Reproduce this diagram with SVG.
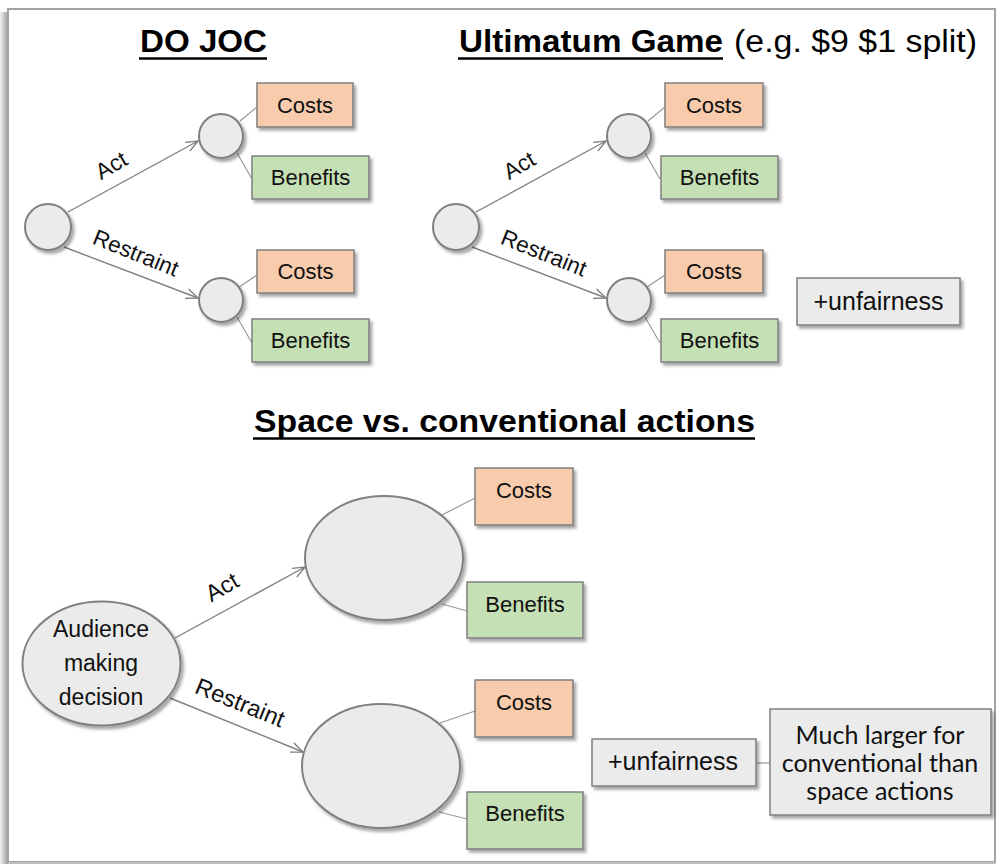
<svg xmlns="http://www.w3.org/2000/svg" width="999" height="865" viewBox="0 0 999 865">
  <defs>
    <style>
      .title { font-family: "Liberation Sans", Arial, sans-serif; font-size: 31px; font-weight: bold; fill: #000; }
      .sub { font-family: "Liberation Sans", Arial, sans-serif; font-size: 31px; fill: #000; }
      .ul { stroke: #000; stroke-width: 2.5; }
      .lbl { font-family: "Liberation Sans", Arial, sans-serif; font-size: 22px; fill: #111; text-anchor: middle; }
      .lbl-big { font-family: "Liberation Sans", Arial, sans-serif; font-size: 23px; fill: #111; text-anchor: middle; }
      .edge-lbl { font-family: "Liberation Sans", Arial, sans-serif; font-size: 22.5px; fill: #111; text-anchor: middle; }
      .edge-lbl-big { font-family: "Liberation Sans", Arial, sans-serif; font-size: 23.5px; fill: #111; text-anchor: middle; }
      .note { font-family: Lato, "Open Sans", sans-serif; font-size: 25px; fill: #111; text-anchor: middle; }
      .costs { fill: #F8CBAD; stroke: #7F7F7F; stroke-width: 1.5; }
      .benefits { fill: #C5E0B4; stroke: #7F7F7F; stroke-width: 1.5; }
      .grey { fill: #EBEBEB; stroke: #7F7F7F; stroke-width: 1.5; }
      .state { fill: #EBEBEB; stroke: #808080; stroke-width: 2; }
      .arrow { stroke: #808080; stroke-width: 1.4; fill: none; marker-end: url(#chev); }
      .link { stroke: #999; stroke-width: 1.2; fill: none; }
    </style>
    <marker id="chev" viewBox="0 0 14 12" refX="13" refY="6" markerWidth="14" markerHeight="12" markerUnits="userSpaceOnUse" orient="auto">
      <path d="M1,1 L13,6 L1,11" fill="none" stroke="#808080" stroke-width="1.4"/>
    </marker>
    <filter id="shadow" x="-20%" y="-20%" width="150%" height="150%">
      <feDropShadow dx="2.5" dy="3" stdDeviation="1.8" flood-color="#000" flood-opacity="0.35"/>
    </filter>
    <linearGradient id="edgeShade" x1="0" y1="0" x2="1" y2="0">
      <stop offset="0" stop-color="#f2f2f2"/>
      <stop offset="1" stop-color="#9c9c9c"/>
    </linearGradient>
  </defs>

  <!-- page frame -->
  <rect x="0" y="0" width="999" height="865" fill="#fff"/>
  <rect x="0" y="12" width="8" height="852" fill="url(#edgeShade)"/>
  <rect x="8" y="9" width="987" height="853" fill="#fff" stroke="#a3a3a3" stroke-width="2"/>
  <line x1="8" y1="863" x2="996" y2="863" stroke="#bdbdbd" stroke-width="2"/>

  <!-- headings -->
  <g id="heading-dojoc">
    <text class="title" x="140" y="52" textLength="127" lengthAdjust="spacingAndGlyphs">DO JOC</text>
    <line class="ul" x1="139" y1="58.5" x2="267" y2="58.5"/>
  </g>
  <g id="heading-ultimatum">
    <text class="title" x="459" y="52" textLength="264" lengthAdjust="spacingAndGlyphs">Ultimatum Game</text>
    <line class="ul" x1="458" y1="58.5" x2="723" y2="58.5"/>
    <text class="sub" x="734" y="52" textLength="243" lengthAdjust="spacingAndGlyphs">(e.g. $9 $1 split)</text>
  </g>
  <g id="heading-space">
    <text class="title" x="254" y="432" textLength="501" lengthAdjust="spacingAndGlyphs">Space vs. conventional actions</text>
    <line class="ul" x1="253" y1="438.5" x2="755" y2="438.5"/>
  </g>

  <!-- connectors -->
  <g id="connectors">
    <!-- DO JOC -->
    <line class="arrow" x1="68" y1="212" x2="198" y2="141"/>
    <line class="arrow" x1="64" y1="247" x2="198" y2="298"/>
    <line class="link" x1="240" y1="121" x2="257" y2="107"/>
    <line class="link" x1="237" y1="153" x2="252" y2="179"/>
    <line class="link" x1="239" y1="287" x2="257" y2="275"/>
    <line class="link" x1="237" y1="317" x2="252" y2="343"/>
    <!-- Ultimatum Game -->
    <line class="arrow" x1="476" y1="212" x2="606" y2="141"/>
    <line class="arrow" x1="472" y1="247" x2="606" y2="298"/>
    <line class="link" x1="648" y1="121" x2="665" y2="107"/>
    <line class="link" x1="645" y1="153" x2="660" y2="179"/>
    <line class="link" x1="647" y1="287" x2="665" y2="275"/>
    <line class="link" x1="645" y1="317" x2="660" y2="343"/>
    <!-- Space vs. conventional -->
    <line class="arrow" x1="175" y1="638" x2="305" y2="567"/>
    <line class="arrow" x1="170" y1="698" x2="303" y2="752"/>
    <line class="link" x1="442" y1="515" x2="475" y2="498"/>
    <line class="link" x1="442" y1="604" x2="467" y2="611"/>
    <line class="link" x1="440" y1="723" x2="475" y2="711"/>
    <line class="link" x1="439" y1="812" x2="467" y2="819"/>
    <line class="link" x1="756" y1="763" x2="770" y2="763"/>

    <!-- edge labels -->
    <text class="edge-lbl" transform="translate(115,172) rotate(-30)">Act</text>
    <text class="edge-lbl" transform="translate(133,260) rotate(22)">Restraint</text>
    <text class="edge-lbl" transform="translate(523,172) rotate(-30)">Act</text>
    <text class="edge-lbl" transform="translate(541,260) rotate(22)">Restraint</text>
    <text class="edge-lbl-big" transform="translate(226,594) rotate(-30)">Act</text>
    <text class="edge-lbl-big" transform="translate(237,710) rotate(22)">Restraint</text>
  </g>

  <!-- DO JOC tree -->
  <g id="dojoc-root"><circle class="state" cx="48" cy="227" r="23" filter="url(#shadow)"/></g>
  <g id="dojoc-act"><circle class="state" cx="221" cy="136" r="22" filter="url(#shadow)"/></g>
  <g id="dojoc-restraint"><circle class="state" cx="221" cy="300" r="22" filter="url(#shadow)"/></g>
  <g id="dojoc-act-costs">
    <rect class="costs" x="257" y="83" width="96" height="44" filter="url(#shadow)"/>
    <text class="lbl" x="305" y="113">Costs</text>
  </g>
  <g id="dojoc-act-benefits">
    <rect class="benefits" x="252" y="156" width="117" height="43" filter="url(#shadow)"/>
    <text class="lbl" x="310.5" y="185">Benefits</text>
  </g>
  <g id="dojoc-restraint-costs">
    <rect class="costs" x="257" y="250" width="97" height="43" filter="url(#shadow)"/>
    <text class="lbl" x="305.5" y="279">Costs</text>
  </g>
  <g id="dojoc-restraint-benefits">
    <rect class="benefits" x="252" y="319" width="117" height="43" filter="url(#shadow)"/>
    <text class="lbl" x="310.5" y="348">Benefits</text>
  </g>

  <!-- Ultimatum Game tree -->
  <g id="ug-root"><circle class="state" cx="456" cy="227" r="23" filter="url(#shadow)"/></g>
  <g id="ug-act"><circle class="state" cx="629" cy="136" r="22" filter="url(#shadow)"/></g>
  <g id="ug-restraint"><circle class="state" cx="629" cy="300" r="22" filter="url(#shadow)"/></g>
  <g id="ug-act-costs">
    <rect class="costs" x="665" y="83" width="98" height="44" filter="url(#shadow)"/>
    <text class="lbl" x="714" y="113">Costs</text>
  </g>
  <g id="ug-act-benefits">
    <rect class="benefits" x="661" y="156" width="117" height="43" filter="url(#shadow)"/>
    <text class="lbl" x="719.5" y="185">Benefits</text>
  </g>
  <g id="ug-restraint-costs">
    <rect class="costs" x="665" y="250" width="98" height="43" filter="url(#shadow)"/>
    <text class="lbl" x="714" y="279">Costs</text>
  </g>
  <g id="ug-restraint-benefits">
    <rect class="benefits" x="661" y="319" width="117" height="43" filter="url(#shadow)"/>
    <text class="lbl" x="719.5" y="348">Benefits</text>
  </g>
  <g id="ug-unfairness">
    <rect class="grey" x="797" y="278" width="163" height="47" filter="url(#shadow)"/>
    <text class="lbl" x="878.5" y="310" style="font-size:25px">+unfairness</text>
  </g>

  <!-- Space vs. conventional tree -->
  <g id="space-root">
    <ellipse class="state" cx="101.5" cy="663.5" rx="79" ry="62" filter="url(#shadow)"/>
    <text class="lbl-big" x="101" y="637">Audience</text>
    <text class="lbl-big" x="101" y="671">making</text>
    <text class="lbl-big" x="101" y="705">decision</text>
  </g>
  <g id="space-act"><ellipse class="state" cx="384" cy="558" rx="79" ry="62" filter="url(#shadow)"/></g>
  <g id="space-restraint"><ellipse class="state" cx="381" cy="766" rx="79" ry="62" filter="url(#shadow)"/></g>
  <g id="space-act-costs">
    <rect class="costs" x="475" y="468" width="98" height="57" filter="url(#shadow)"/>
    <text class="lbl" x="524" y="498">Costs</text>
  </g>
  <g id="space-act-benefits">
    <rect class="benefits" x="467" y="582" width="116" height="56" filter="url(#shadow)"/>
    <text class="lbl" x="525" y="612">Benefits</text>
  </g>
  <g id="space-restraint-costs">
    <rect class="costs" x="475" y="680" width="98" height="57" filter="url(#shadow)"/>
    <text class="lbl" x="524" y="710">Costs</text>
  </g>
  <g id="space-restraint-benefits">
    <rect class="benefits" x="467" y="792" width="116" height="57" filter="url(#shadow)"/>
    <text class="lbl" x="525" y="821">Benefits</text>
  </g>
  <g id="space-unfairness">
    <rect class="grey" x="592" y="739" width="164" height="47" filter="url(#shadow)"/>
    <text class="lbl" x="673" y="770" style="font-size:25px">+unfairness</text>
  </g>
  <g id="space-note">
    <rect class="grey" x="770" y="709" width="221" height="106" filter="url(#shadow)"/>
    <text class="note" x="880" y="744">Much larger for</text>
    <text class="note" x="880" y="772">conventional than</text>
    <text class="note" x="880" y="800">space actions</text>
  </g>
</svg>
